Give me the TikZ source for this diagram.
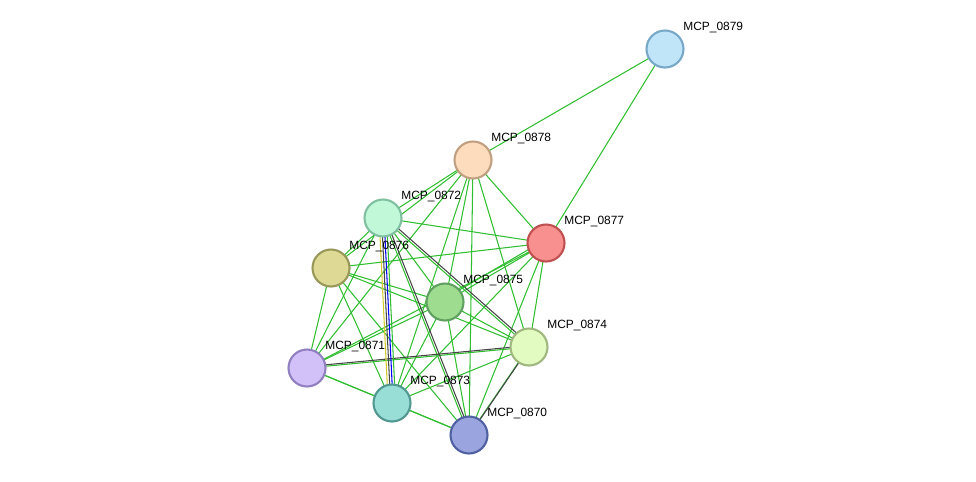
\documentclass[tikz,border=0pt]{standalone}
\usepackage{fontspec}
\setmainfont{Liberation Sans}
\usetikzlibrary{calc}
\definecolor{edgeG}{RGB}{48,190,48}
\definecolor{edgeK}{RGB}{70,70,70}
\tikzset{
    prot/.style={circle,line width=1.2pt,minimum size=0.74cm,inner sep=0pt},
    plabel/.style={anchor=west,font=\fontsize{6.8}{7}\selectfont,inner sep=0pt},
    every edge/.append style={line width=0.6pt,edgeG},
    coexp/.style={edgeK,transform canvas={shift={(0.9pt,0.9pt)}}},
}
\begin{document}
\begin{tikzpicture}[x=0.02cm,y=-0.02cm]
       \useasboundingbox (0,0) rectangle (976,481);

       % node positions
       \coordinate (p79) at (665, 49);
       \coordinate (p78) at (473,160);
       \coordinate (p72) at (383,218);
       \coordinate (p77) at (546,243);
       \coordinate (p76) at (331,268);
       \coordinate (p75) at (445,302);
       \coordinate (p74) at (529,347);
       \coordinate (p71) at (307,368);
       \coordinate (p73) at (392,403);
       \coordinate (p70) at (469,435);

       \path (p79) edge (p78)
                   edge (p77)
             (p78) edge (p72) edge (p76) edge (p75) edge (p73)
                   edge (p70) edge (p74) edge (p77) edge (p71)
             (p72) edge (p76) edge (p77) edge (p75) edge (p74)
                   edge (p70) edge (p71)
             (p76) edge (p77) edge (p75) edge (p74) edge (p73)
                   edge (p70) edge (p71)
             (p77) edge (p75) edge (p71) edge (p74) edge (p70) edge (p73)
             (p75) edge (p74) edge (p70) edge (p73) edge (p71)
             (p74) edge (p71) edge (p73) edge (p70)
             (p71) edge (p73) edge (p70)
             (p73) edge (p70);

       % co-expression and other evidence
       \path (p72) edge[coexp] (p74)
                   edge[coexp] (p70)
             (p74) edge[coexp] (p71)
                   edge[coexp] (p70)
             (p77) edge[transform canvas={shift={(-1pt,1.5pt)}}] (p75);
       \path (p72) edge[yellow!80!black,transform canvas={xshift=-2.2pt}] (p73)
                   edge[edgeK,transform canvas={xshift=-0.8pt}] (p73)
                   edge[blue,transform canvas={xshift=0.6pt}] (p73)
                   edge[transform canvas={xshift=2pt}] (p73);

       \node[prot,fill={rgb,255:red,192;green,228;blue,248},draw={rgb,255:red,120;green,168;blue,200}] (n79) at (p79) {};
       \node[prot,fill={rgb,255:red,253;green,220;blue,190},draw={rgb,255:red,192;green,160;blue,128}] (n78) at (p78) {};
       \node[prot,fill={rgb,255:red,192;green,248;blue,216},draw={rgb,255:red,128;green,192;blue,160}] (n72) at (p72) {};
       \node[prot,fill={rgb,255:red,248;green,144;blue,144},draw={rgb,255:red,192;green,80;blue,80}] (n77) at (p77) {};
       \node[prot,fill={rgb,255:red,222;green,218;blue,150},draw={rgb,255:red,152;green,152;blue,88}] (n76) at (p76) {};
       \node[prot,fill={rgb,255:red,158;green,221;blue,144},draw={rgb,255:red,96;green,160;blue,96}] (n75) at (p75) {};
       \node[prot,fill={rgb,255:red,226;green,251;blue,192},draw={rgb,255:red,160;green,184;blue,128}] (n74) at (p74) {};
       \node[prot,fill={rgb,255:red,210;green,192;blue,248},draw={rgb,255:red,144;green,128;blue,192}] (n71) at (p71) {};
       \node[prot,fill={rgb,255:red,152;green,222;blue,214},draw={rgb,255:red,80;green,152;blue,144}] (n73) at (p73) {};
       \node[prot,fill={rgb,255:red,154;green,164;blue,222},draw={rgb,255:red,80;green,96;blue,160}] (n70) at (p70) {};

       \foreach \n in {79,78,72,77,76,75,74,71,73,70}
           \node[plabel] (l\n) at ($(p\n)+(18,-21)$) {MCP\_08\n};
\end{tikzpicture}
\end{document}
